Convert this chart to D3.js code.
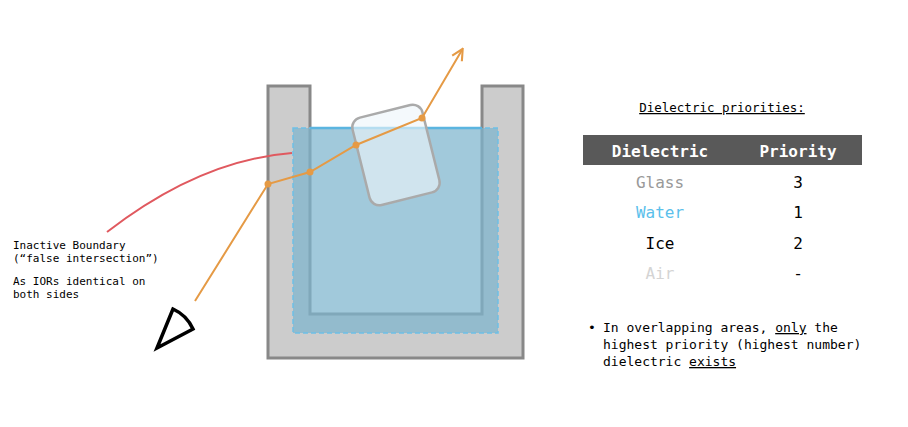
<!DOCTYPE html><html><head><meta charset="utf-8"><script src="https://cdn.jsdelivr.net/npm/d3@7"></script>
<style>body{margin:0;background:#fff}text{font-family:"DejaVu Sans Mono",monospace}</style></head><body><svg id="c" width="908" height="427"></svg>
<script>
const dielectrics=["Glass","Water","Ice","Air"];
const priorities=["3","1","2","-"];
const rowColors=["#999","#5bc0eb","#000","#d4d4d4"];
const rayPts=[[195,301],[268,184],[310,172],[356,145],[422,118],[462,50]];
const svg=d3.select("#c");
const defs=svg.append("defs");
defs.append("marker").attr("id","ar").attr("viewBox","0 0 10 10").attr("refX",8).attr("refY",5).attr("markerWidth",7).attr("markerHeight",7).attr("orient","auto")
 .append("path").attr("d","M1,1L9,5L1,9").attr("fill","none").attr("stroke","#e59a45").attr("stroke-width",1.5);
svg.append("path").attr("d","M268,86H310V314H482V86H523V358H268Z").attr("fill","#cccccc").attr("stroke","#888").attr("stroke-width",3);
svg.append("rect").attr("x",293).attr("y",128).attr("width",205).attr("height",205).attr("fill","rgba(125,180,205,0.72)").attr("stroke","#6ec0e6").attr("stroke-width",1.5).attr("stroke-dasharray","5,3");
svg.append("line").attr("x1",310).attr("x2",482).attr("y1",128).attr("y2",128).attr("stroke","#5bb5e0").attr("stroke-width",2.5);
const ice=svg.append("g").attr("transform","translate(396,155) rotate(-14)");
ice.append("rect").attr("x",-36).attr("y",-45).attr("width",72).attr("height",90).attr("rx",10).attr("fill","rgba(238,246,250,0.62)").attr("stroke","#aaa").attr("stroke-width",2.5);
svg.append("path").attr("d","M107,232Q200,160 292,153").attr("fill","none").attr("stroke","#e0595f").attr("stroke-width",2);
svg.append("path").attr("d",d3.line()(rayPts)).attr("fill","none").attr("stroke","#e59a45").attr("stroke-width",2).attr("marker-end","url(#ar)");
svg.selectAll("circle.p").data(rayPts.slice(1,5)).join("circle").attr("cx",d=>d[0]).attr("cy",d=>d[1]).attr("r",3.5).attr("fill","#e59a45");
svg.append("path").attr("d","M173,309L157,348L193,329A40,40 0 0 0 173,309Z").attr("fill","none").attr("stroke","#000").attr("stroke-width",3.5);
[["Inactive Boundary",249],["(“false intersection”)",262],["As IORs identical on",285],["both sides",298]].forEach(([t,y])=>svg.append("text").attr("x",13).attr("y",y).attr("font-size",11).text(t));
svg.append("text").attr("x",722).attr("y",112).attr("text-anchor","middle").attr("font-size",12.5).attr("text-decoration","underline").text("Dielectric priorities:");
svg.append("rect").attr("x",583).attr("y",135).attr("width",279).attr("height",30).attr("fill","#595959");
svg.append("text").attr("x",660).attr("y",157).attr("text-anchor","middle").attr("font-size",16).attr("font-weight","bold").attr("fill","#fff").text("Dielectric");
svg.append("text").attr("x",798).attr("y",157).attr("text-anchor","middle").attr("font-size",16).attr("font-weight","bold").attr("fill","#fff").text("Priority");
const y=d3.scalePoint().domain(dielectrics).range([188,279]);
dielectrics.forEach((d,i)=>{
 svg.append("text").attr("x",660).attr("y",y(d)).attr("text-anchor","middle").attr("font-size",16).attr("fill",rowColors[i]).text(d);
 svg.append("text").attr("x",798).attr("y",y(d)).attr("text-anchor","middle").attr("font-size",16).attr("fill","#000").text(priorities[i]);
});
const b=svg.append("g").attr("font-size",13);
b.append("text").attr("x",588).attr("y",332).text("•");
const l1=b.append("text").attr("x",603).attr("y",332);
l1.append("tspan").text("In overlapping areas, ");l1.append("tspan").attr("text-decoration","underline").text("only");l1.append("tspan").text(" the");
b.append("text").attr("x",603).attr("y",349).text("highest priority (highest number)");
const l3=b.append("text").attr("x",603).attr("y",366);
l3.append("tspan").text("dielectric ");l3.append("tspan").attr("text-decoration","underline").text("exists");
</script></body></html>
